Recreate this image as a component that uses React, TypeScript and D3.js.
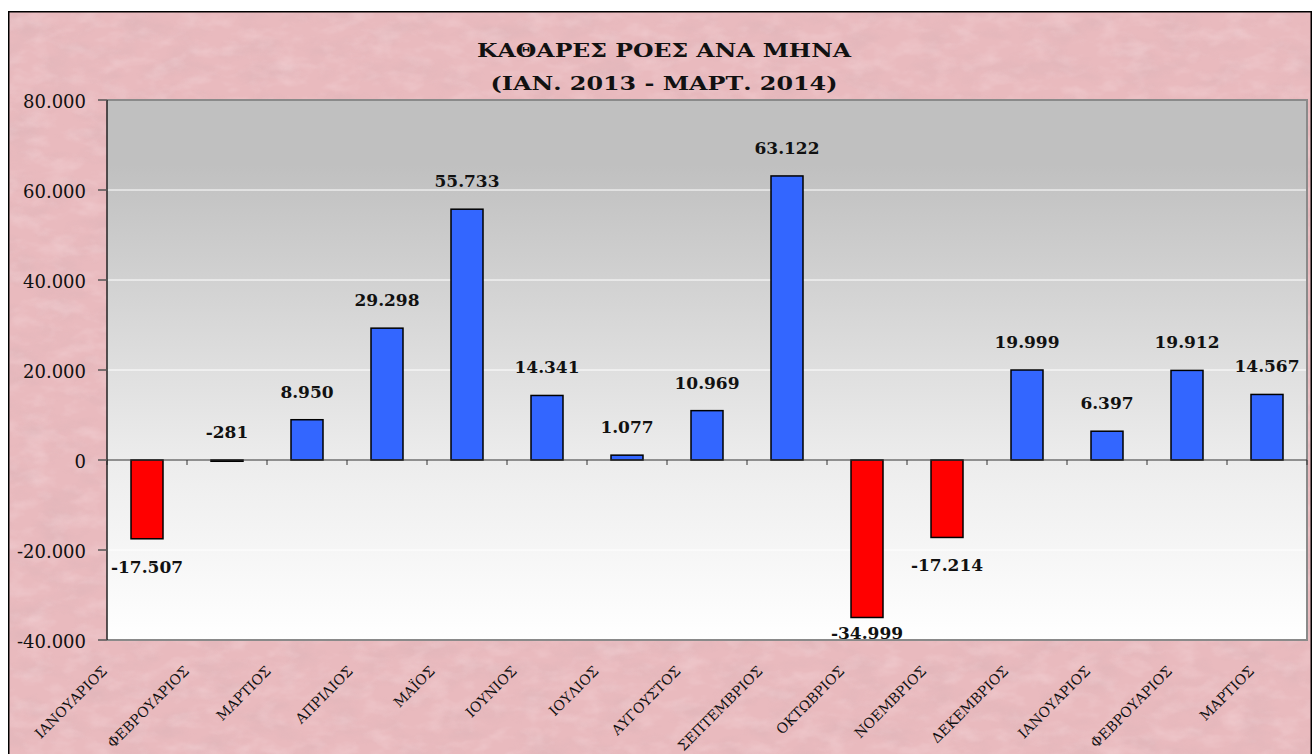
import React from 'react';
import * as d3 from 'd3';

const months = [
  'ΙΑΝΟΥΑΡΙΟΣ', 'ΦΕΒΡΟΥΑΡΙΟΣ', 'ΜΑΡΤΙΟΣ', 'ΑΠΡΙΛΙΟΣ', 'ΜΑΪΟΣ', 'ΙΟΥΝΙΟΣ', 'ΙΟΥΛΙΟΣ',
  'ΑΥΓΟΥΣΤΟΣ', 'ΣΕΠΤΕΜΒΡΙΟΣ', 'ΟΚΤΩΒΡΙΟΣ', 'ΝΟΕΜΒΡΙΟΣ', 'ΔΕΚΕΜΒΡΙΟΣ',
  'ΙΑΝΟΥΑΡΙΟΣ', 'ΦΕΒΡΟΥΑΡΙΟΣ', 'ΜΑΡΤΙΟΣ',
];
const netFlows = [
  -17507, -281, 8950, 29298, 55733, 14341, 1077, 10969, 63122, -34999, -17214, 19999, 6397, 19912, 14567,
];
const yTicks = [-40000, -20000, 0, 20000, 40000, 60000, 80000];
const titleLines = ['ΚΑΘΑΡΕΣ ΡΟΕΣ ΑΝΑ ΜΗΝΑ', '(ΙΑΝ. 2013 - ΜΑΡΤ. 2014)'];

const W = 1312;
const H = 754;
const plot = { left: 107, right: 1307, top: 100, bottom: 640 };

// greek number style: dot for thousands, plain hyphen for minus
const locale = d3.formatLocale({
  decimal: ',',
  thousands: '.',
  grouping: [3],
  currency: ['', '€'],
  minus: '-',
});
const fmt = locale.format(',');

export default function App() {
  const idx = months.map((_, i) => i);
  const x = d3.scaleBand<number>().domain(idx).range([plot.left, plot.right]).padding(0);
  const y = d3.scaleLinear().domain([-40000, 80000]).range([plot.bottom, plot.top]);
  const labelX = d3.scalePoint<number>().domain(idx).range([108, 1255]);
  const barW = 32;
  const font = '"DejaVu Serif", serif';
  const titleLen = [374, 347];

  return (
    <div style={{ position: 'absolute', left: 0, top: 0 }}>
      <svg width={W} height={H} style={{ display: 'block' }}>
        <defs>
          <filter id="paper" x="0" y="0" width="100%" height="100%">
            <feTurbulence type="fractalNoise" baseFrequency="0.025 0.05" numOctaves={4} seed={3} result="n" />
            <feColorMatrix
              in="n"
              type="matrix"
              values="0 0 0 0 0.62  0 0 0 0 0.42  0 0 0 0 0.45  1.5 0 0 0 -0.66"
            />
          </filter>
          <filter id="paperLight" x="0" y="0" width="100%" height="100%">
            <feTurbulence type="fractalNoise" baseFrequency="0.04 0.07" numOctaves={3} seed={11} result="n" />
            <feColorMatrix
              in="n"
              type="matrix"
              values="0 0 0 0 1  0 0 0 0 0.88  0 0 0 0 0.9  1.4 0 0 0 -0.62"
            />
          </filter>
          <linearGradient id="plotBg" x1="0" y1="0" x2="0" y2="1">
            <stop offset="0" stopColor="#c0c0c0" />
            <stop offset="0.12" stopColor="#c0c0c0" />
            <stop offset="0.66" stopColor="#ececec" />
            <stop offset="1" stopColor="#ffffff" />
          </linearGradient>
        </defs>

        {/* paper background */}
        <rect x={8} y={11} width={1304} height={H - 11} fill="#e9babe" />
        <rect x={8} y={11} width={1304} height={H - 11} filter="url(#paper)" opacity={0.4} />
        <rect x={8} y={11} width={1304} height={H - 11} filter="url(#paperLight)" opacity={0.35} />
        <rect x={8.75} y={11.75} width={1302.5} height={H} fill="none" stroke="#000" strokeWidth={1.5} />

        {/* title */}
        {titleLines.map((t, i) => (
          <text
            key={i}
            x={664}
            y={57 + i * 33}
            textAnchor="middle"
            fontFamily={font}
            fontWeight="bold"
            fontSize={18.5}
            textLength={titleLen[i]}
            lengthAdjust="spacingAndGlyphs"
            fill="#111"
          >
            {t}
          </text>
        ))}

        {/* plot area */}
        <rect
          x={plot.left}
          y={plot.top}
          width={plot.right - plot.left}
          height={plot.bottom - plot.top}
          fill="url(#plotBg)"
        />
        {yTicks
          .filter((t) => t !== 0 && t !== 80000 && t !== -40000)
          .map((t) => (
            <line key={t} x1={plot.left} x2={plot.right} y1={y(t)} y2={y(t)} stroke="#ffffff" strokeWidth={1} />
          ))}
        <path
          d={`M${plot.left},${plot.top}H${plot.right}V${plot.bottom}H${plot.left}`}
          fill="none"
          stroke="#8a8a8a"
          strokeWidth={2}
        />

        {/* bars */}
        {netFlows.map((v, i) => {
          const cx = x(i)! + x.bandwidth() / 2;
          const y0 = y(Math.max(0, v));
          const y1 = y(Math.min(0, v));
          return (
            <rect
              key={i}
              x={cx - barW / 2}
              y={y0}
              width={barW}
              height={Math.max(1, y1 - y0)}
              fill={v < 0 ? '#ff0000' : '#3366ff'}
              stroke="#000"
              strokeWidth={1.5}
            />
          );
        })}

        {/* zero axis with category ticks */}
        <line x1={plot.left} x2={plot.right} y1={y(0)} y2={y(0)} stroke="#333" strokeWidth={1} />
        {idx.map((i) => (
          <line key={i} x1={x(i)!} x2={x(i)!} y1={y(0)} y2={y(0) + 5} stroke="#333" strokeWidth={1} />
        ))}
        <line x1={plot.right} x2={plot.right} y1={y(0)} y2={y(0) + 5} stroke="#333" strokeWidth={1} />

        {/* y axis */}
        <line x1={plot.left} x2={plot.left} y1={plot.top} y2={plot.bottom} stroke="#222" strokeWidth={1.5} />
        {yTicks.map((t) => (
          <g key={t}>
            <line x1={plot.left - 9} x2={plot.left} y1={y(t)} y2={y(t)} stroke="#555" strokeWidth={1.5} />
            <text x={86} y={y(t) + 7.5} textAnchor="end" fontFamily={font} fontSize={18} fill="#111">
              {fmt(t)}
            </text>
          </g>
        ))}

        {/* value labels */}
        {netFlows.map((v, i) => {
          const cx = x(i)! + x.bandwidth() / 2;
          // tiny values sit above the axis; labels are kept inside the plot area
          const ty = v > -1000 ? y(Math.max(0, v)) - 22 : Math.min(y(v) + 34, plot.bottom - 1);
          return (
            <text
              key={i}
              x={cx}
              y={ty}
              textAnchor="middle"
              fontFamily={font}
              fontWeight="bold"
              fontSize={17}
              fill="#111"
            >
              {fmt(v)}
            </text>
          );
        })}

        {/* category labels */}
        {months.map((m, i) => (
          <text
            key={i}
            transform={`translate(${labelX(i)},672) rotate(-45)`}
            textAnchor="end"
            fontFamily={font}
            fontSize={14}
            fill="#111"
          >
            {m}
          </text>
        ))}
      </svg>
    </div>
  );
}
